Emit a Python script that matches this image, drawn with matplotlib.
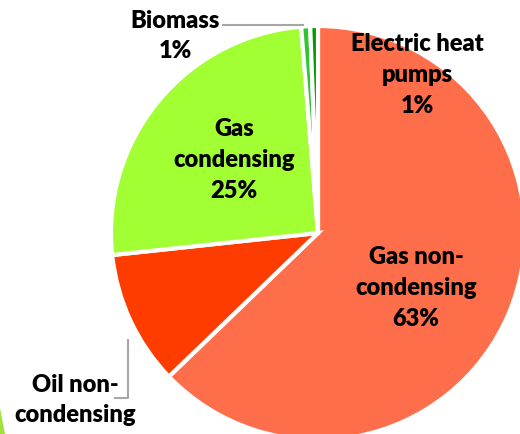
import matplotlib.pyplot as plt
from matplotlib.patches import Polygon

W, H, DPI = 520, 434, 100

labels = ["Gas non-\ncondensing", "Oil non-\ncondensing", "Gas\ncondensing",
          "Biomass", "Electric heat\npumps"]
shares = [62.8, 10.5, 25.4, 0.7, 0.6]
pct_text = ["63%", "11%", "25%", "1%", "1%"]
colors = ["#ff6e4a", "#ff3c00", "#a2ff33", "#33c433", "#009a00"]

fig = plt.figure(figsize=(W / DPI, H / DPI), dpi=DPI, facecolor="white")
ax = fig.add_axes((0, 0, 1, 1))

cx, cy, r = 318, H - 233, 207
ax.pie(shares, colors=colors, startangle=90, counterclock=False,
       center=(cx, cy), radius=r, frame=True,
       wedgeprops=dict(edgecolor="white", linewidth=3))
ax.set_xlim(0, W)
ax.set_ylim(0, H)
ax.set_aspect("equal")
ax.axis("off")

font = dict(family="Lato", fontweight="heavy", fontsize=17, color="black",
            ha="center", va="center", linespacing=1.5)

# label positions in pixel coordinates (x, y from top)
label_pos = [(416, 288), (75, 400), (234, 160), (175, 36), (417, 75)]
for i, (x, y) in enumerate(label_pos):
    if i == 1:
        txt = labels[i]
    else:
        txt = labels[i] + "\n" + pct_text[i]
    ax.text(x, H - y, txt, **font)

# leader lines
ax.plot([223, 303], [H - 25, H - 25], color="#a6a6a6", lw=1.5)
ax.plot([128, 128, 115], [H - 340, H - 398, H - 398], color="#a6a6a6", lw=1.5)

# sliver of neighbouring element at bottom-left
ax.add_patch(Polygon([(0, H - 434), (0, H - 408), (5, H - 434)],
                     closed=True, facecolor="#a2e040", edgecolor="none"))

fig.savefig("out.png", dpi=DPI, facecolor="white")
